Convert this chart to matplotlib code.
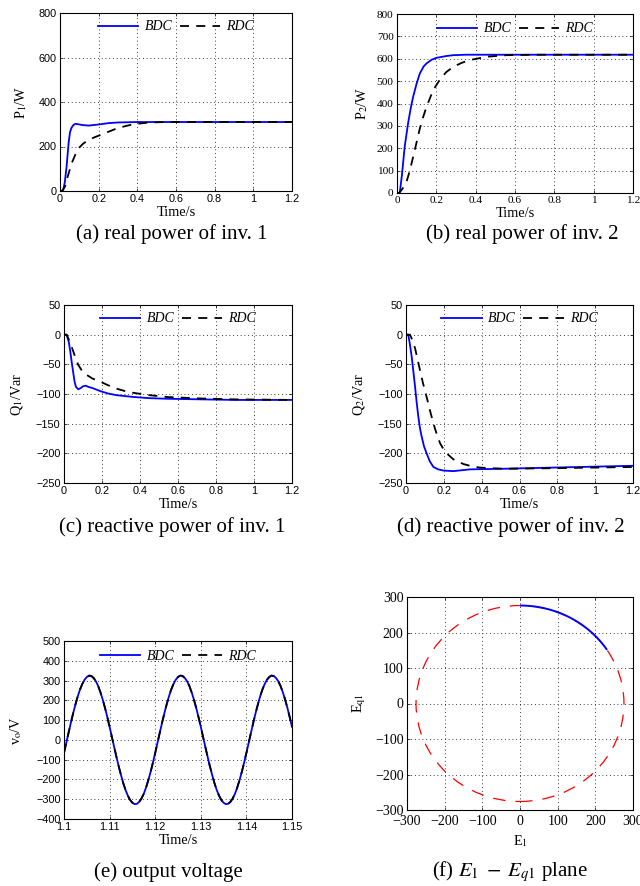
import matplotlib
matplotlib.use("Agg")
import matplotlib.pyplot as plt
from matplotlib.patches import Circle, Arc
from matplotlib.lines import Line2D

# ---------------- data ----------------
t_p1_bdc = [0, 0.01, 0.017, 0.025, 0.034, 0.045, 0.052, 0.06, 0.07, 0.08, 0.1, 0.12, 0.15, 0.2, 0.25, 0.3, 0.4, 0.6, 1.2]
p1_bdc = [0, 0, 5, 40, 109, 220, 265, 285, 297, 302, 299, 296, 294, 299, 305, 308, 310, 310, 310]
t_p1_rdc = [0, 0.01, 0.026, 0.04, 0.06, 0.08, 0.095, 0.12, 0.147, 0.18, 0.207, 0.25, 0.293, 0.34, 0.38, 0.43, 0.466, 0.55, 0.7, 1.2]
p1_rdc = [0, 0, 20, 65, 124, 165, 191, 213, 229, 242, 251, 266, 281, 292, 300, 305, 308, 310, 310, 310]

t_p2_bdc = [0, 0.014, 0.025, 0.039, 0.056, 0.07, 0.082, 0.1, 0.116, 0.135, 0.15, 0.175, 0.2, 0.25, 0.286, 0.35, 0.5, 1.2]
p2_bdc = [0, 0, 80, 206, 310, 380, 430, 490, 534, 565, 579, 595, 604, 612, 616, 618, 618, 618]
t_p2_rdc = [0, 0.01, 0.022, 0.035, 0.048, 0.065, 0.082, 0.1, 0.116, 0.135, 0.15, 0.184, 0.218, 0.25, 0.286, 0.33, 0.37, 0.456, 0.558, 0.7, 1.2]
p2_rdc = [0, 0, 12, 28, 49, 100, 161, 228, 288, 345, 385, 460, 507, 540, 564, 582, 594, 609, 616, 618, 618]

t_q1_bdc = [0, 0.014, 0.025, 0.032, 0.04, 0.049, 0.056, 0.063, 0.075, 0.088, 0.1, 0.115, 0.128, 0.15, 0.19, 0.23, 0.277, 0.365, 0.45, 0.54, 0.716, 0.9, 1.2]
q1_bdc = [0, 0, -12, -26, -45, -65, -80, -88, -92, -90, -87, -86, -88, -90, -95, -99, -102, -105, -107, -108, -109, -110, -110]
t_q1_rdc = [0, 0.014, 0.025, 0.04, 0.055, 0.075, 0.095, 0.12, 0.15, 0.19, 0.23, 0.277, 0.32, 0.365, 0.45, 0.54, 0.716, 0.89, 1.2]
q1_rdc = [0, 0, -8, -20, -34, -51, -61, -68, -74, -79, -85, -91, -95, -98, -102, -105, -107.5, -109, -110]

t_q2_bdc = [0, 0.012, 0.02, 0.03, 0.04, 0.048, 0.056, 0.065, 0.074, 0.083, 0.095, 0.109, 0.125, 0.145, 0.17, 0.198, 0.25, 0.339, 0.515, 0.78, 1.2]
q2_bdc = [0, 0, -15, -37, -65, -88, -113, -138, -158, -172, -188, -200, -213, -223, -227, -229, -230, -227, -226, -224, -221]
t_q2_rdc = [0, 0.021, 0.035, 0.048, 0.06, 0.074, 0.09, 0.109, 0.127, 0.145, 0.163, 0.18, 0.2, 0.215, 0.25, 0.303, 0.35, 0.39, 0.515, 0.8, 1.2]
q2_rdc = [0, 0, -10, -23, -40, -60, -82, -105, -128, -150, -168, -183, -194, -200, -210, -218, -222, -224, -226, -225, -223]

t_vo_start = 1.1
t_vo_step = 0.0005
vo_cycle = [-66, -15, 36, 86, 134, 178, 219, 254, 282, 304, 318, 325, 323, 313, 296, 272, 240, 203, 161, 115,
            66, 15, -36, -86, -134, -178, -219, -254, -282, -304, -318, -325, -323, -313, -296, -272, -240, -203, -161, -115]
vo_bdc = vo_cycle + vo_cycle + vo_cycle[:21]
vo_rdc = list(vo_bdc)
t_vo = [round(t_vo_start + k * t_vo_step, 5) for k in range(len(vo_bdc))]

circle_radius = 276
arc_theta_start = 33.2
arc_theta_end = 90.0

time_ticks = [0, 0.2, 0.4, 0.6, 0.8, 1.0, 1.2]
time_ticklabels = ["0", "0.2", "0.4", "0.6", "0.8", "1", "1.2"]
vo_xticks = [1.1, 1.11, 1.12, 1.13, 1.14, 1.15]
vo_xticklabels = ["1.1", "1.11", "1.12", "1.13", "1.14", "1.15"]
p1_yticks = [0, 200, 400, 600, 800]
p2_yticks = [0, 100, 200, 300, 400, 500, 600, 700, 800]
q_yticks = [50, 0, -50, -100, -150, -200, -250]
vo_yticks = [-400, -300, -200, -100, 0, 100, 200, 300, 400, 500]
e_ticks = [-300, -200, -100, 0, 100, 200, 300]

captions = ["(a) real power of inv. 1", "(b) real power of inv. 2",
            "(c) reactive power of inv. 1", "(d) reactive power of inv. 2",
            "(e) output voltage", r"(f) $E_1\;-\;E_{q1}$ plane"]

# ---------------- style ----------------
SERIF = "Liberation Serif"
SANS = "Liberation Sans"
plt.rcParams["font.family"] = SERIF
plt.rcParams["mathtext.fontset"] = "stix"
plt.rcParams["axes.unicode_minus"] = True

W, H = 640, 886
fig = plt.figure(figsize=(W / 100, H / 100), dpi=100)


def add_ax(left, top, right, bottom):
    return fig.add_axes([left / W, 1 - bottom / H, (right - left) / W, (bottom - top) / H])


def style(ax, tickfont, ticksize):
    ax.grid(True, color="black", linestyle=(0, (1, 3.5)), linewidth=0.6)
    for s in ax.spines.values():
        s.set_linewidth(0.8)
    ax.tick_params(direction="in", length=2, width=0.5, top=True, right=True, pad=2.5,
                   labelsize=ticksize)
    for lab in ax.get_xticklabels() + ax.get_yticklabels():
        lab.set_fontfamily(tickfont)


def legend(ax, yfrac):
    handles = [Line2D([], [], color="blue", lw=1.3),
               Line2D([], [], color="black", lw=1.3, linestyle=(0, (5, 4)))]
    ax.legend(handles, ["BDC", "RDC"], loc="center", bbox_to_anchor=(0.5, yfrac), ncol=2,
              frameon=False, handlelength=2.9, handletextpad=0.45, columnspacing=0.55,
              borderaxespad=0, borderpad=0,
              prop={"family": SERIF, "style": "italic", "size": 10})


def time_plot(ax, tb, yb, tr, yr, yticks, ylim, ylabel, tickfont, ticksize, leg_y, ylabelpad):
    ax.plot(tb, yb, color="blue", lw=1.3)
    ax.plot(tr, yr, color="black", lw=1.3, linestyle=(0, (5, 4)))
    ax.set_xlim(0, 1.2)
    ax.set_ylim(*ylim)
    ax.set_xticks(time_ticks)
    ax.set_xticklabels(time_ticklabels)
    ax.set_yticks(yticks)
    style(ax, tickfont, ticksize)
    ax.set_xlabel("Time/s", fontsize=10.3, labelpad=1.0)
    ax.set_ylabel(ylabel, fontsize=10.3, labelpad=ylabelpad)
    legend(ax, leg_y)


# (a)
ax = add_ax(60, 13, 292, 191)
time_plot(ax, t_p1_bdc, p1_bdc, t_p1_rdc, p1_rdc, p1_yticks, (0, 800),
          r"P$_1$/W", SANS, 7.8, 1 - 14 / 178, 7)
# (b)
ax = add_ax(397, 14, 633, 193)
time_plot(ax, t_p2_bdc, p2_bdc, t_p2_rdc, p2_rdc, p2_yticks, (0, 800),
          r"P$_2$/W", SERIF, 8.2, 1 - 15 / 179, 5)
# (c)
ax = add_ax(64, 305, 292, 483)
time_plot(ax, t_q1_bdc, q1_bdc, t_q1_rdc, q1_rdc, q_yticks, (-250, 50),
          r"Q$_1$/Var", SANS, 7.8, 1 - 14 / 178, 8)
# (d)
ax = add_ax(406, 305, 633, 483)
time_plot(ax, t_q2_bdc, q2_bdc, t_q2_rdc, q2_rdc, q_yticks, (-250, 50),
          r"Q$_2$/Var", SANS, 7.8, 1 - 14 / 178, 8)

# (e)
ax = add_ax(64, 641, 292, 819)
ax.plot(t_vo, vo_bdc, color="blue", lw=1.3)
ax.plot(t_vo, vo_rdc, color="black", lw=1.3, linestyle=(0, (5, 4)))
ax.set_xlim(1.1, 1.15)
ax.set_ylim(-400, 500)
ax.set_xticks(vo_xticks)
ax.set_xticklabels(vo_xticklabels)
ax.set_yticks(vo_yticks)
style(ax, SANS, 7.8)
ax.set_xlabel("Time/s", fontsize=10.3, labelpad=1.0)
ax.set_ylabel(r"v$_\mathrm{o}$/V", fontsize=10.3, labelpad=9)
legend(ax, 1 - 15 / 178)

# (f)
ax = add_ax(407, 597, 633, 810)
ax.add_patch(Circle((0, 0), circle_radius, fill=False, edgecolor="red", lw=0.9,
                    linestyle=(0, (10, 8))))
ax.add_patch(Arc((0, 0), 2 * circle_radius, 2 * circle_radius, theta1=arc_theta_start,
                 theta2=arc_theta_end, edgecolor="blue", lw=1.4))
ax.set_xlim(-300, 300)
ax.set_ylim(-300, 300)
ax.set_xticks(e_ticks)
ax.set_yticks(e_ticks)
style(ax, SERIF, 10)
ax.tick_params(axis="x", pad=3.5)
ax.set_xlabel(r"E$_1$", fontsize=10.3, labelpad=4)
ax.set_ylabel(r"E$_{\mathrm{q1}}$", fontsize=10.3, labelpad=5)

# captions
cap_pos = [(172, 234), (522, 234), (172, 527), (511, 527), (168, 872), (510, 872)]
for (cx, cy), txt in zip(cap_pos, captions):
    fig.text(cx / W, 1 - cy / H, txt, ha="center", va="center", fontsize=15, family=SERIF)

fig.savefig("out.png", dpi=100)
